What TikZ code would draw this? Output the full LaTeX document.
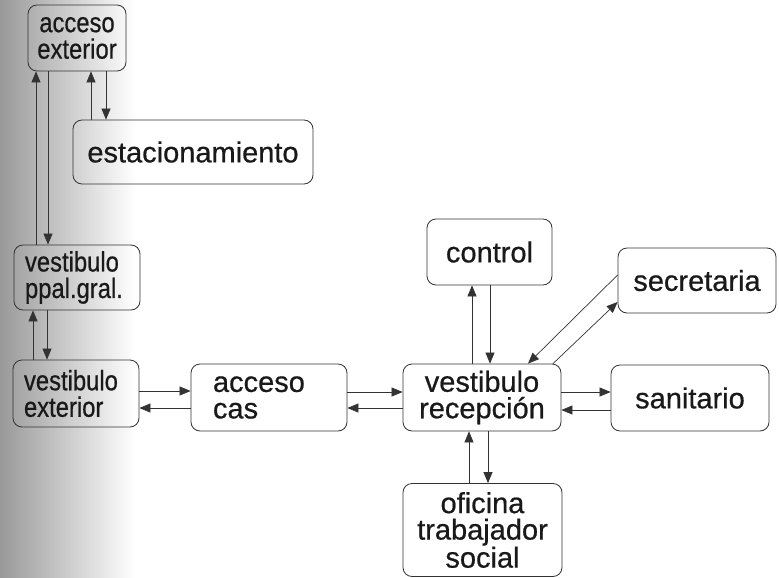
\documentclass[tikz,border=0pt]{standalone}
\usepackage{fontspec}
\setmainfont[FakeBold=0.6]{Liberation Sans}
\newfontfamily\condfont[FakeStretch=0.85,FakeBold=0.6]{Liberation Sans}
\usetikzlibrary{arrows.meta}
\begin{document}
\begin{tikzpicture}[x=1pt,y=-1pt,
  box/.style={draw=black!80, line width=0.8pt, rounded corners=9pt, inner sep=0pt,
    align=center, text=black!90, font=\fontsize{29}{26.5}\selectfont},
  lbox/.style={box, font=\condfont\fontsize{28}{26.5}\selectfont},
  arr/.style={draw=black!80, line width=0.7pt, -{Triangle[length=11pt,width=9pt]}}]
\useasboundingbox (0,0) rectangle (779,578);
\fill[white] (0,0) rectangle (779,578);
\shade[left color=black!40, right color=white] (0,0) rectangle (135,578);

% nodes
\node[lbox, minimum width=98pt, minimum height=66pt] (ae) at (77,38) {acceso\\exterior};
\node[box, minimum width=240pt, minimum height=64pt] (est) at (193,152) {estacionamiento};
\node[lbox, align=left, text width=104pt, inner xsep=11pt, minimum height=65pt] (vp) at (77,277.5) {vestibulo\\ppal.gral.};
\node[lbox, align=left, text width=104pt, inner xsep=11pt, minimum height=67pt] (ve) at (76,393.5) {vestibulo\\exterior};
\node[box, align=left, text width=112pt, inner xsep=22pt, minimum height=67pt] (ac) at (269,397.5) {acceso\\cas};
\node[box, minimum width=125pt, minimum height=66pt] (ctl) at (489.5,252) {control};
\node[box, minimum width=158pt, minimum height=65pt] (sec) at (697,280.5) {secretaria};
\node[box, minimum width=158pt, minimum height=67pt] (vr) at (482,397.5) {vestibulo\\recepción};
\node[box, minimum width=158pt, minimum height=66pt] (san) at (690,398) {sanitario};
\node[box, minimum width=159pt, minimum height=93pt] (of) at (482.5,530) {oficina\\trabajador\\social};

% connectors
\draw[arr] ([xshift=-41pt]vp.north) -- ([xshift=-41pt]ae.south);
\draw[arr] ([xshift=-29pt]ae.south) -- ([xshift=-29pt]vp.north);
\draw[arr] ([xshift=-102pt]est.north) -- ([xshift=14pt]ae.south);
\draw[arr] ([xshift=29pt]ae.south) -- ([xshift=-87pt]est.north);
\draw[arr] ([xshift=-43pt]ve.north) -- ([xshift=-44pt]vp.south);
\draw[arr] ([xshift=-30pt]vp.south) -- ([xshift=-29pt]ve.north);
\draw[arr] ([yshift=2.5pt]ve.east) -- ([yshift=6.5pt]ac.west);
\draw[arr] ([yshift=-10.5pt]ac.west) -- ([yshift=-14.5pt]ve.east);
\draw[arr] ([yshift=5.5pt]ac.east) -- ([yshift=5.5pt]vr.west);
\draw[arr] ([yshift=-10.5pt]vr.west) -- ([yshift=-10.5pt]ac.east);
\draw[arr] ([xshift=-10pt]vr.north) -- ([xshift=-17.5pt]ctl.south);
\draw[arr] ([xshift=0.5pt]ctl.south) -- ([xshift=8pt]vr.north);
\draw[arr] ([yshift=5.5pt]sec.west) -- ([xshift=46pt]vr.north);
\draw[arr] ([xshift=71pt]vr.north) -- ([yshift=-21.5pt]sec.west);
\draw[arr] ([yshift=5.5pt]vr.east) -- ([yshift=6pt]san.west);
\draw[arr] ([yshift=-12pt]san.west) -- ([yshift=-12.5pt]vr.east);
\draw[arr] ([xshift=-13.5pt]of.north) -- ([xshift=-13pt]vr.south);
\draw[arr] ([xshift=6pt]vr.south) -- ([xshift=5.5pt]of.north);
\end{tikzpicture}
\end{document}
